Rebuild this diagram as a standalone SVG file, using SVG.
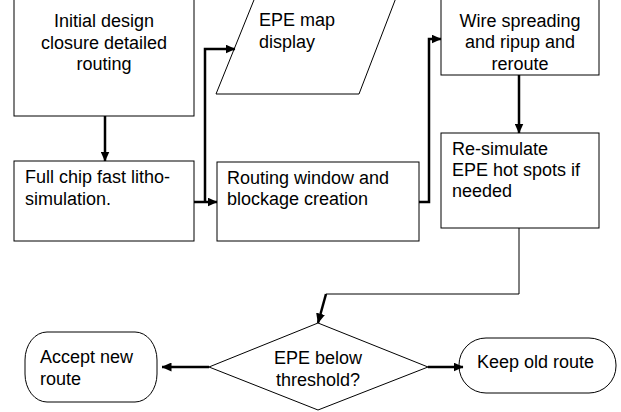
<svg xmlns="http://www.w3.org/2000/svg" width="621" height="412" viewBox="0 0 621 412">
<style>
.box{fill:#fff;stroke:#000;stroke-width:1}
.t{font-family:"Liberation Sans",Arial,sans-serif;font-size:18px;fill:#000}
.c{text-anchor:middle}
.w{fill:none;stroke:#000;stroke-width:2.5}
.n{fill:none;stroke:#000;stroke-width:1}
</style>
<defs>
<marker id="ah" markerUnits="userSpaceOnUse" markerWidth="10" markerHeight="9" viewBox="0 0 10 9" refX="9.5" refY="4.5" orient="auto">
<path d="M0,0 L10,4.5 L0,9 Z" fill="#000"/>
</marker>
</defs>
<rect width="621" height="412" fill="#fff"/>
<g id="n1">
<rect class="box" x="14" y="-10" width="180" height="126"/>
<text class="t c" x="104" y="27">Initial design</text>
<text class="t c" x="104" y="49">closure detailed</text>
<text class="t c" x="104" y="70">routing</text>
</g>
<g id="n2">
<rect class="box" x="14" y="161" width="180" height="80"/>
<text class="t" x="25" y="183">Full chip fast litho-</text>
<text class="t" x="25" y="205">simulation.</text>
</g>
<g id="n3">
<polygon class="box" points="258,-10 399,-10 359,94 216,94"/>
<text class="t" x="259" y="26">EPE map</text>
<text class="t" x="259" y="48">display</text>
</g>
<g id="n4">
<rect class="box" x="217" y="162" width="202" height="79"/>
<text class="t" x="227" y="184">Routing window and</text>
<text class="t" x="227" y="205">blockage creation</text>
</g>
<g id="n5">
<rect class="box" x="441" y="-10" width="158" height="85"/>
<text class="t c" x="520" y="27">Wire spreading</text>
<text class="t c" x="520" y="48">and ripup and</text>
<text class="t c" x="520" y="70">reroute</text>
</g>
<g id="n6">
<rect class="box" x="441" y="133" width="158" height="95"/>
<text class="t" x="452" y="155">Re-simulate</text>
<text class="t" x="452" y="176">EPE hot spots if</text>
<text class="t" x="452" y="197">needed</text>
</g>
<g id="n7">
<polygon class="box" points="318,323 428,367 318,410 209,367"/>
<text class="t c" x="318" y="364">EPE below</text>
<text class="t c" x="318" y="386">threshold?</text>
</g>
<g id="n8">
<rect class="box" x="25" y="332" width="132" height="70" rx="22" ry="28"/>
<text class="t" x="40" y="363">Accept new</text>
<text class="t" x="40" y="385">route</text>
</g>
<g id="n9">
<rect class="box" x="459" y="338" width="157" height="55" rx="27" ry="27"/>
<text class="t" x="477" y="368">Keep old route</text>
</g>
<g id="connectors">
<line class="w" x1="105" y1="116" x2="105" y2="161" marker-end="url(#ah)"/>
<line class="w" x1="194" y1="202" x2="217" y2="202" marker-end="url(#ah)"/>
<polyline class="w" points="205,202 205,49 235,49" marker-end="url(#ah)"/>
<polyline class="w" points="419,202 429,202 429,39 441,39" marker-end="url(#ah)"/>
<line class="w" x1="519" y1="75" x2="519" y2="133" marker-end="url(#ah)"/>
<polyline class="n" points="519,228 519,294 326,294"/>
<line class="w" x1="326" y1="294" x2="318" y2="323" marker-end="url(#ah)"/>
<line class="w" x1="428" y1="367" x2="463" y2="367" marker-end="url(#ah)"/>
<line class="w" x1="209" y1="367" x2="162" y2="367" marker-end="url(#ah)"/>
</g>
</svg>
